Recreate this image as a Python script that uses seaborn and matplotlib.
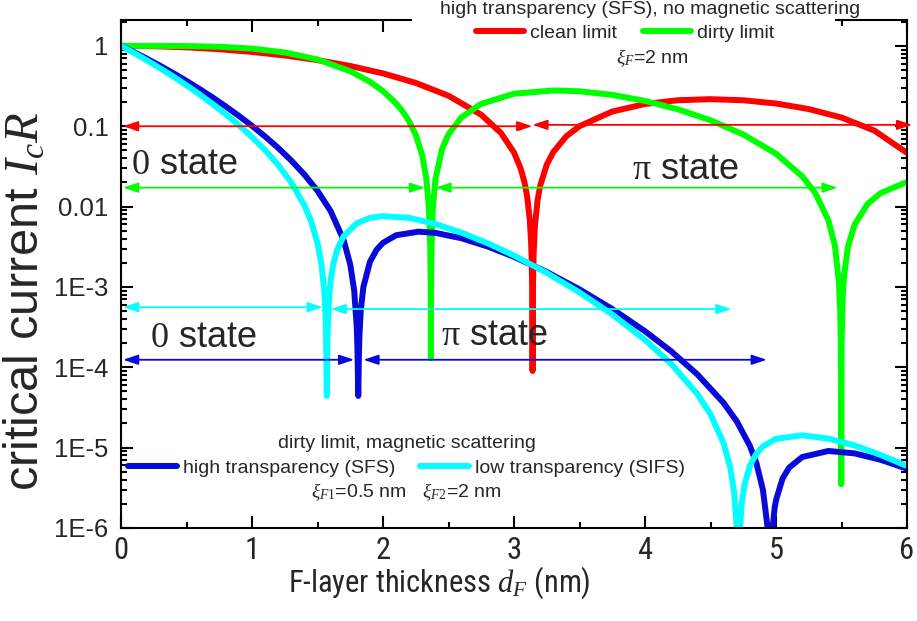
import os
import matplotlib
matplotlib.use("Agg")
import matplotlib.pyplot as plt
import seaborn as sns
import pandas as pd
from matplotlib.patches import Rectangle
from matplotlib.ticker import LogLocator, NullFormatter, MultipleLocator
from matplotlib import font_manager as fm

# ---------------- data ----------------
red_d = [0, 0.25, 0.5, 0.75, 1.0, 1.25, 1.5, 1.75, 2.0, 2.25, 2.5, 2.75, 2.9, 3.0, 3.05,
         3.08, 3.1, 3.12, 3.13, 3.135, 3.138, 3.1405, 3.1416, 3.1427, 3.145, 3.15, 3.16,
         3.18, 3.2, 3.25, 3.3, 3.4, 3.5, 3.75, 4.0, 4.25, 4.5, 4.75, 5.0, 5.25, 5.5, 5.75, 6.0]
red_v = [1.0, 0.9896, 0.9589, 0.9089, 0.8415, 0.7592, 0.6650, 0.5623, 0.4546, 0.3458,
         0.2394, 0.1388, 0.0825, 0.0470, 0.0300, 0.0200, 0.01342, 0.00692, 0.00370, 0.00210,
         0.00114, 0.00035, 0.00009, 0.00035, 0.00108, 0.00267, 0.00583, 0.01208, 0.01825,
         0.0333, 0.0478, 0.0752, 0.1002, 0.1524, 0.1892, 0.2106, 0.2172, 0.2104, 0.1918,
         0.1636, 0.1283, 0.0884, 0.0466]

green_d = [0, 0.25, 0.5, 0.75, 1.0, 1.25, 1.5, 1.75, 1.9, 2.0, 2.1, 2.15, 2.2, 2.25, 2.3,
           2.33, 2.35, 2.36, 2.363, 2.3645, 2.3652, 2.366, 2.3675, 2.37, 2.38, 2.4, 2.45,
           2.5, 2.6, 2.75, 3.0, 3.3, 3.5, 3.75, 4.0, 4.25, 4.5, 4.75, 5.0, 5.2, 5.3, 5.4,
           5.45, 5.48, 5.49, 5.495, 5.4978, 5.5005, 5.505, 5.51, 5.52, 5.55, 5.6, 5.7, 5.8, 6.0]
green_v = [1.0, 0.9997, 0.9951, 0.9757, 0.9255, 0.8283, 0.6775, 0.4836, 0.3574, 0.2735,
           0.1920, 0.1527, 0.1147, 0.0781, 0.04306, 0.02259, 0.00970, 0.0033, 0.0014,
           0.00045, 0.00013, 0.00051, 0.00147, 0.00307, 0.00939, 0.02192, 0.0517, 0.0796,
           0.1296, 0.1900, 0.2540, 0.279, 0.2724, 0.2456, 0.2066, 0.1626, 0.1188, 0.0790,
           0.0455, 0.02381, 0.01470, 0.00674, 0.00322, 0.00114, 0.0005, 0.00018, 0.0000035,
           0.00017, 0.00046, 0.00078, 0.00141, 0.0032, 0.00598, 0.01083, 0.01478, 0.02025]

blue_d = [0, 0.1, 0.2, 0.3, 0.4, 0.5, 0.6, 0.7, 0.8, 0.9, 1.0, 1.1, 1.2, 1.3, 1.4, 1.5, 1.6,
          1.7, 1.75, 1.78, 1.8, 1.805, 1.8108, 1.816, 1.82, 1.83, 1.85, 1.9, 1.95, 2.0, 2.1,
          2.27, 2.4, 2.6, 2.8, 3.0, 3.25, 3.5, 3.75, 4.0, 4.2, 4.4, 4.6, 4.7, 4.8, 4.85, 4.9,
          4.93, 4.9524, 4.97, 4.99, 5.0, 5.05, 5.1, 5.2, 5.4, 5.6, 5.8, 6.0]
blue_v = [1.0, 0.8346, 0.6896, 0.5640, 0.4567, 0.3660, 0.2902, 0.2275, 0.1761, 0.1344,
          0.1010, 0.0744, 0.0536, 0.0374, 0.0250, 0.01568, 0.00879, 0.00380, 0.00189,
          0.000902, 0.000304, 0.000161, 0.000044, 0.000142, 0.000249, 0.000509, 0.000998,
          0.00205, 0.00289, 0.00354, 0.00440, 0.00487, 0.00471, 0.00403, 0.00318, 0.00237,
          0.001535, 0.000932, 0.000531, 0.000281, 0.000158, 0.0000814, 0.0000360, 0.0000213,
          0.00001056, 0.00000645, 0.00000299, 0.00000121, 0.0000005, 0.000000875, 0.0000018,
          0.00000222, 0.00000413, 0.00000563, 0.00000764, 0.00000908, 0.00000848,
          0.00000705, 0.00000546]

cyan_d = [0, 0.1, 0.2, 0.3, 0.4, 0.5, 0.6, 0.7, 0.8, 0.9, 1.0, 1.1, 1.2, 1.3, 1.4, 1.45, 1.5,
          1.53, 1.55, 1.56, 1.565, 1.5708, 1.576, 1.58, 1.59, 1.6, 1.62, 1.65, 1.7, 1.8, 1.9,
          2.0, 2.2, 2.4, 2.6, 2.8, 3.0, 3.25, 3.5, 3.75, 4.0, 4.2, 4.4, 4.5, 4.6, 4.65, 4.68,
          4.70, 4.7124, 4.725, 4.74, 4.76, 4.8, 4.85, 4.9, 5.0, 5.2, 5.4, 5.6, 5.8, 6.0]
cyan_v = [1.0, 0.8146, 0.6570, 0.5243, 0.4139, 0.3229, 0.2486, 0.1886, 0.1407, 0.1027,
          0.0731, 0.0503, 0.0329, 0.0199, 0.01034, 0.00663, 0.00352, 0.00191, 0.000936,
          0.000477, 0.000253, 0.000044, 0.000223, 0.000390, 0.000799, 0.00119, 0.00193,
          0.00292, 0.00430, 0.00620, 0.00724, 0.00761, 0.00723, 0.00607, 0.00473, 0.00349,
          0.00246, 0.001494, 0.000854, 0.000454, 0.000219, 0.000110, 0.0000464, 0.0000260,
          0.00001133, 0.00000569, 0.00000279, 0.00000103, 0.0000005, 0.00000101, 0.00000211,
          0.00000349, 0.00000592, 0.00000841, 0.00001035, 0.00001288, 0.00001424,
          0.00001295, 0.00001063, 0.00000809, 0.0000059]

series_labels = ["clean limit", "dirty limit", "high transparency (SFS)", "low transparency (SIFS)"]

# arrows: start x, end x, level y
arrow_x0 = [0.015, 3.14, 0.015, 2.40, 0.015, 1.60, 0.015, 1.85]
arrow_x1 = [3.14, 6.04, 2.32, 5.47, 1.54, 4.66, 1.78, 4.93]
arrow_y = [0.100, 0.104, 0.0172, 0.0172, 5.6e-4, 5.3e-4, 1.24e-4, 1.24e-4]

state_text = [r"$\mathrm{0}$ state", r"$\mathrm{\pi}$ state", r"$\mathrm{0}$ state", r"$\mathrm{\pi}$ state"]
state_x = [0.48, 4.31, 0.63, 2.85]
state_y = [0.0333, 0.0288, 2.36e-4, 2.5e-4]

ytick_vals = [1e-6, 1e-5, 1e-4, 1e-3, 1e-2, 1e-1, 1]
ytick_labels = ["1E-6", "1E-5", "1E-4", "1E-3", "0.01", "0.1", "1"]
xtick_vals = [0, 1, 2, 3, 4, 5, 6]
xtick_labels = ["0", "1", "2", "3", "4", "5", "6"]

# ---------------- styling ----------------
RED, GREEN, BLUE, CYAN = "#FF0000", "#00FF00", "#0A0AD8", "#00FFFF"
arrow_colors = [RED, RED, GREEN, GREEN, CYAN, CYAN, BLUE, BLUE]

sns.set_style("ticks")
plt.rcParams['font.family'] = ['Liberation Sans', 'DejaVu Sans']
plt.rcParams['mathtext.fontset'] = 'custom'
plt.rcParams['mathtext.rm'] = 'Liberation Serif'
plt.rcParams['mathtext.it'] = 'Liberation Serif:italic'
plt.rcParams['mathtext.bf'] = 'Liberation Serif:bold'


def pick_narrow():
    """Return a condensed sans font file if one is installed, else None."""
    for fam in ['Liberation Sans Narrow', 'Arial Narrow', 'DejaVu Sans Condensed',
                'Roboto Condensed', 'Noto Sans Condensed', 'Open Sans Condensed']:
        try:
            return fm.findfont(fm.FontProperties(family=fam), fallback_to_default=False)
        except Exception:
            pass
    for fam in ['DejaVu Sans', 'Noto Sans', 'Open Sans', 'Roboto', 'Liberation Sans']:
        try:
            p = fm.findfont(fm.FontProperties(family=fam, stretch='condensed'),
                            fallback_to_default=False)
            b = os.path.basename(p).lower()
            if 'condensed' in b or 'narrow' in b:
                return p
        except Exception:
            pass
    return None


narrow_path = pick_narrow()
if narrow_path:
    xfp_tick = fm.FontProperties(fname=narrow_path, size=22)
    xfp_label = fm.FontProperties(fname=narrow_path, size=22)
else:
    xfp_tick = fm.FontProperties(family='Liberation Sans', size=20)
    xfp_label = fm.FontProperties(family='Liberation Sans', size=19.5)

fig = plt.figure(figsize=(9.17, 6.21), dpi=100)
ax = fig.add_axes([0.1320, 0.1498, 0.8571, 0.8180])

frames = [
    pd.DataFrame({"d": red_d, "v": red_v}),
    pd.DataFrame({"d": green_d, "v": green_v}),
    pd.DataFrame({"d": blue_d, "v": blue_v}),
    pd.DataFrame({"d": cyan_d, "v": cyan_v}),
]
colors = [RED, GREEN, BLUE, CYAN]
for df, c, lab in zip(frames, colors, series_labels):
    sns.lineplot(data=df, x="d", y="v", color=c, lw=4.3, ax=ax, sort=False,
                 estimator=None, label=lab, legend=False, solid_capstyle='round')

ax.set_yscale('log')
ax.set_xlim(0, 6)
ax.set_ylim(1e-6, 2.1)
ax.set_yticks(ytick_vals)
ax.set_yticklabels(ytick_labels, fontsize=18.5)
ax.yaxis.set_minor_locator(LogLocator(base=10, subs=[2, 3, 4, 5, 6, 7, 8, 9], numticks=20))
ax.yaxis.set_minor_formatter(NullFormatter())
ax.set_xticks(xtick_vals)
ax.set_xticklabels(xtick_labels)
for t in ax.get_xticklabels():
    t.set_fontproperties(xfp_tick)
ax.xaxis.set_minor_locator(MultipleLocator(0.5))
ax.tick_params(which='both', direction='in', top=True, right=True, width=1.5, color='black')
ax.tick_params(which='major', length=8.5)
ax.tick_params(which='minor', length=4.5)
ax.tick_params(axis='y', which='major', pad=9)
ax.tick_params(axis='x', which='major', pad=6)
for s in ax.spines.values():
    s.set_linewidth(1.5)
    s.set_color('black')

ax.set_ylabel(r"critical current $I_cR$", fontsize=35)
ax.yaxis.set_label_coords(-0.092, 0.447)
ax.set_xlabel(r"F-layer thickness $d_F$ (nm)", fontproperties=xfp_label)
ax.xaxis.set_label_coords(0.405, -0.072)

# arrows
for x0, x1, y, c in zip(arrow_x0, arrow_x1, arrow_y, arrow_colors):
    ax.annotate('', xy=(x1, y), xytext=(x0, y), annotation_clip=False,
                arrowprops=dict(arrowstyle='<|-|>,head_length=0.9,head_width=0.3',
                                color=c, lw=1.3, shrinkA=0, shrinkB=0, mutation_scale=10))

for t, x, y in zip(state_text, state_x, state_y):
    ax.text(x, y, t, fontsize=26, ha='center', va='center')

# top legend block (white background hides the top spine there)
fig.add_artist(Rectangle((0.4493, 0.8873), 0.4613, 0.1127, transform=fig.transFigure,
                         facecolor='white', edgecolor='none', zorder=2))
handles = ax.lines[:4]
fig.text(0.709, 0.984, "high transparency (SFS), no magnetic scattering", fontsize=14,
         ha='center', va='center', zorder=4)
leg1 = fig.legend(handles=handles[:2], labels=series_labels[:2], ncol=2, loc='center',
                  bbox_to_anchor=(0.6816, 0.947), bbox_transform=fig.transFigure,
                  frameon=False, fontsize=14, handlelength=2.5, handletextpad=0.3,
                  columnspacing=1.3, borderpad=0, borderaxespad=0)
leg1.set_zorder(5)
fig.text(0.711, 0.9066, r"$\xi_F$=2 nm", fontsize=14, ha='center', va='center', zorder=4)

# bottom legend block
fig.text(0.4438, 0.2866, "dirty limit, magnetic scattering", fontsize=14, ha='center',
         va='center', zorder=4)
leg2 = fig.legend(handles=handles[2:], labels=series_labels[2:], ncol=2, loc='center',
                  bbox_to_anchor=(0.4433, 0.2464), bbox_transform=fig.transFigure,
                  frameon=False, fontsize=14, handlelength=2.5, handletextpad=0.3,
                  columnspacing=1.3, borderpad=0, borderaxespad=0)
leg2.set_zorder(5)
fig.text(0.4428, 0.2077, r"$\xi_{F1}$=0.5 nm   $\xi_{F2}$=2 nm", fontsize=14,
         ha='center', va='center', zorder=4)

fig.savefig("out.png", dpi=100)
